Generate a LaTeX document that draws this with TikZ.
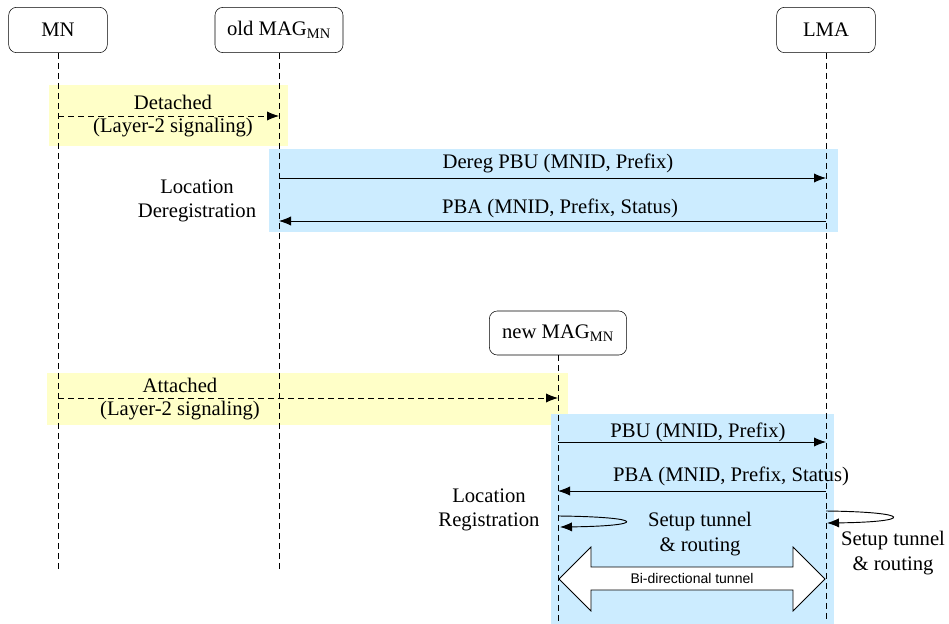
\documentclass[tikz,border=0pt]{standalone}
\usepackage{fontspec}
\setmainfont{Liberation Serif}
\newfontfamily\tunfont{Liberation Sans}
\usetikzlibrary{arrows.meta}
\definecolor{l2yel}{RGB}{255,255,200}
\definecolor{regblu}{RGB}{204,236,255}

\begin{document}
\begin{tikzpicture}[
  font=\rmfamily\fontsize{15.5}{18.5}\selectfont,
  >={Latex[length=9pt,width=7pt]},
  x=0.75pt, y=-0.75pt,
  ent/.style={draw, rounded corners=6pt, align=center, inner sep=2pt,
              minimum height=34pt},
  life/.style={line width=0.6pt, dash pattern=on 4.5pt off 3pt},
  msg/.style={->, line width=0.7pt},
  l2msg/.style={msg, dash pattern=on 4.5pt off 3pt},
  lbl/.style={align=center, inner sep=0pt},
]
  \useasboundingbox (0,0) rectangle (949,624);

  % phase backgrounds
  \fill[l2yel] (49,85) rectangle (288,146);
  \fill[regblu] (269,149) rectangle (838,232);
  \fill[l2yel] (47,373) rectangle (568,425);
  \fill[regblu] (551,414) rectangle (834,624);

  % entities
  \node[ent, minimum width=74pt] (mn) at (58,30) {MN};
  \node[ent, minimum width=96pt] (omag) at (279,30) {old MAG\textsubscript{MN}};
  \node[ent, minimum width=74pt] (lma) at (826,30) {LMA};
  \node[ent, minimum width=103pt, minimum height=33pt] (nmag) at (558,333)
       {new MAG\textsubscript{MN}};

  % lifelines
  \coordinate (mn-end) at (58,572);
  \coordinate (omag-end) at (279,572);
  \coordinate (lma-end) at (826,622);
  \coordinate (nmag-end) at (558,622);
  \draw[life] (mn.south) -- (mn-end);
  \draw[life] (omag.south) -- (omag-end);
  \draw[life] (lma.south) -- (lma-end);
  \draw[life] (nmag.south) -- (nmag-end);

  % 1. detach from the old MAG
  \coordinate (mn-det) at (58,116);
  \coordinate (omag-det) at (279,116);
  \draw[l2msg] (mn-det) -- (omag-det);
  \node[lbl] (det) at (173,102) {Detached};
  \node[lbl] (det-l2) at (173,128) {(Layer-2 signaling)};

  % 2. deregistration at the LMA
  \coordinate (omag-pbu) at (279,178);
  \coordinate (lma-pbu) at (826,178);
  \coordinate (lma-pba) at (826,221);
  \coordinate (omag-pba) at (279,221);
  \draw[msg] (omag-pbu) -- (lma-pbu);
  \draw[msg] (lma-pba) -- (omag-pba);
  \node[lbl] (dpbu) at (558,163) {Dereg PBU (MNID, Prefix)};
  \node[lbl] (dpba) at (560,208) {PBA (MNID, Prefix, Status)};
  \node[lbl] (dereg) at (197,201) {Location\\ Deregistration};

  % 3. attach to the new MAG
  \coordinate (mn-att) at (58,398);
  \coordinate (nmag-att) at (558,398);
  \draw[l2msg] (mn-att) -- (nmag-att);
  \node[lbl] (att) at (180,385) {Attached};
  \node[lbl] (att-l2) at (180,411) {(Layer-2 signaling)};

  % 4. registration at the LMA
  \coordinate (nmag-pbu) at (558,442);
  \coordinate (lma-pbu2) at (826,442);
  \coordinate (lma-pba2) at (826,491);
  \coordinate (nmag-pba) at (558,491);
  \draw[msg] (nmag-pbu) -- (lma-pbu2);
  \draw[msg] (lma-pba2) -- (nmag-pba);
  \node[lbl] (pbu) at (698,432) {PBU (MNID, Prefix)};
  \node[lbl] (pba) at (731,476) {PBA (MNID, Prefix, Status)};
  \node[lbl] (reg) at (489,510) {Location\\ Registration};

  % tunnel setup on both ends
  \coordinate (nmag-s1) at (559,516);
  \coordinate (nmag-s2) at (560,527);
  \coordinate (lma-s1) at (826,511);
  \coordinate (lma-s2) at (827,523);
  \draw[msg] (nmag-s1) .. controls (647,517) and (647,526) .. (nmag-s2);
  \draw[msg] (lma-s1) .. controls (914,512) and (914,522) .. (lma-s2);
  \node[lbl] (setn) at (700,534) {Setup tunnel\\ \& routing};
  \node[lbl] (setl) at (893,553) {Setup tunnel\\ \& routing};

  % bi-directional tunnel
  \draw[fill=white, line width=0.6pt] (559,579) -- (591,547) -- (591,567) -- (793,567)
    -- (793,547) -- (825,579) -- (793,611) -- (793,590) -- (591,590) -- (591,611) -- cycle;
  \node[lbl, font=\tunfont\fontsize{10.5}{12}\selectfont] (tun) at (692,578)
       {Bi-directional tunnel};
\end{tikzpicture}
\end{document}
